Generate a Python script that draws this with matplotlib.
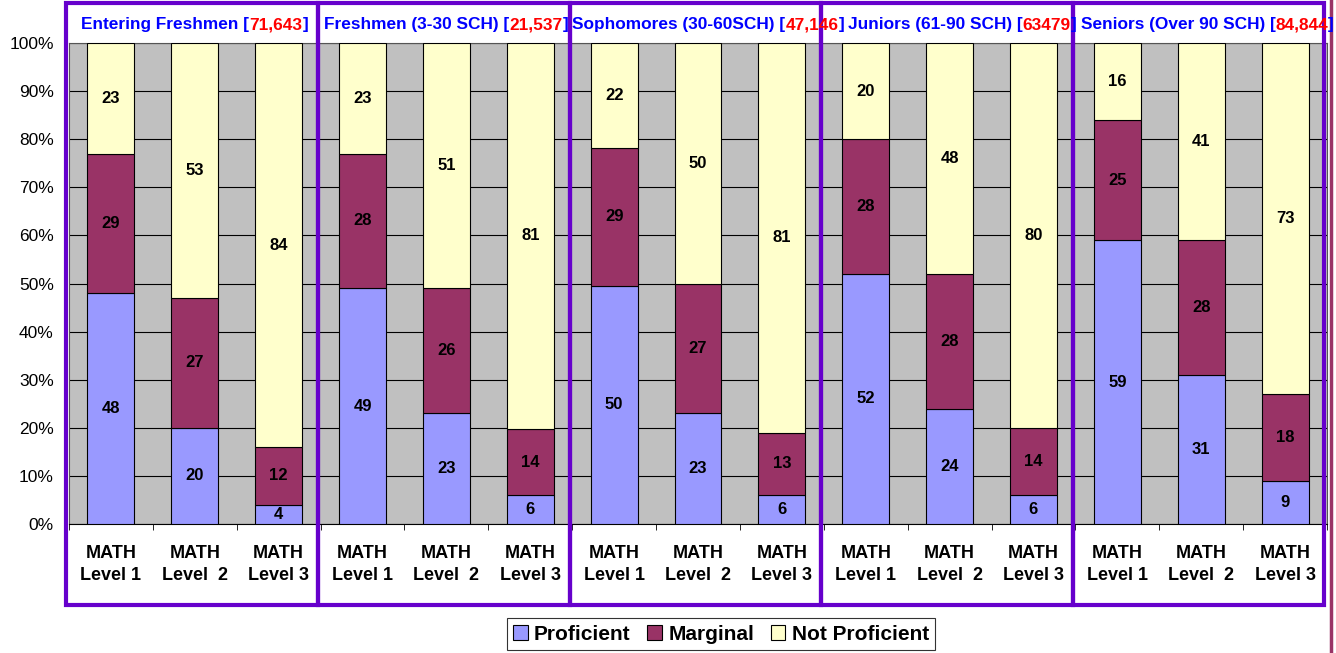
import matplotlib
matplotlib.use("Agg")
import matplotlib.pyplot as plt
import numpy as np
from matplotlib.patches import Rectangle
from matplotlib.lines import Line2D
from matplotlib.transforms import blended_transform_factory

plt.rcParams['font.family'] = ['Liberation Sans', 'DejaVu Sans']

group_names = ["Entering Freshmen", "Freshmen (3-30 SCH)", "Sophomores (30-60SCH)",
               "Juniors (61-90 SCH)", "Seniors (Over 90 SCH)"]
group_counts = ["71,643", "21,537", "47,146", "63479", "84,844"]
levels = ["MATH\nLevel 1", "MATH\nLevel  2", "MATH\nLevel 3"]

proficient = [48, 20, 4, 49, 23, 6, 50, 23, 6, 52, 24, 6, 59, 31, 9]
marginal = [29, 27, 12, 28, 26, 14, 29, 27, 13, 28, 28, 14, 25, 28, 18]
not_prof = [23, 53, 84, 23, 51, 81, 22, 50, 81, 20, 48, 80, 16, 41, 73]

c_prof = '#9999FF'
c_marg = '#993366'
c_not = '#FFFFCC'
box_col = '#6600CC'

W, H = 1336, 653
fig = plt.figure(figsize=(W / 100, H / 100), dpi=100)
ax = fig.add_axes([69 / W, (H - 524) / H, (1327 - 69) / W, (524 - 43) / H])
ax.set_facecolor('#C0C0C0')

p = np.array(proficient, float)
m = np.array(marginal, float)
n = np.array(not_prof, float)
tot = p + m + n
pn, mn, nn = p / tot * 100, m / tot * 100, n / tot * 100
x = np.arange(len(p))
bw = 0.56

ax.bar(x, pn, bw, color=c_prof, edgecolor='black', linewidth=0.8, label='Proficient', zorder=3)
ax.bar(x, mn, bw, bottom=pn, color=c_marg, edgecolor='black', linewidth=0.8, label='Marginal', zorder=3)
ax.bar(x, nn, bw, bottom=pn + mn, color=c_not, edgecolor='black', linewidth=0.8, label='Not Proficient', zorder=3)

for i in x:
    ax.text(i, pn[i] / 2, str(proficient[i]), ha='center', va='center', fontsize=12, fontweight='bold', zorder=4)
    ax.text(i, pn[i] + mn[i] / 2, str(marginal[i]), ha='center', va='center', fontsize=12, fontweight='bold', zorder=4)
    ax.text(i, pn[i] + mn[i] + nn[i] / 2, str(not_prof[i]), ha='center', va='center', fontsize=12, fontweight='bold', zorder=4)

ax.set_xlim(-0.5, len(p) - 0.5)
ax.set_ylim(0, 100)
ax.set_yticks(np.arange(0, 101, 10))
ax.set_yticklabels([f"{v}%" for v in range(0, 101, 10)], fontsize=12.5)
ax.tick_params(axis='y', length=0, pad=11)
ax.yaxis.grid(True, color='black', linewidth=0.8, zorder=1)
ax.set_axisbelow(True)

ax.set_xticks(x)
ax.set_xticklabels(levels * 5, fontsize=13, fontweight='bold', linespacing=1.4)
ax.tick_params(axis='x', which='major', length=0, pad=15)
ax.set_xticks(np.arange(-0.5, len(p), 1), minor=True)
ax.tick_params(axis='x', which='minor', length=4, direction='out', color='black')

for s in ['top', 'right', 'left']:
    ax.spines[s].set_color('#555555')
ax.spines['bottom'].set_color('black')

# purple group boxes
tr = blended_transform_factory(ax.transData, fig.transFigure)
y0 = (H - 605) / H
y1 = (H - 3) / H
for g in range(5):
    left = g * 3 - 0.5 - 0.03
    ax.add_patch(Rectangle((left, y0), 3, y1 - y0, transform=tr, fill=False,
                           edgecolor=box_col, linewidth=3, clip_on=False, zorder=10))

fig.add_artist(Line2D([1331 / W, 1331 / W], [0, 1], color=c_marg, linewidth=2.5))

# group titles, blue with red counts, centred over each group (no overlap)
fig.canvas.draw()
r = fig.canvas.get_renderer()
ty = (H - 25) / H
prev_right = 0
for g in range(5):
    cx = ax.transData.transform((g * 3 + 1, 0))[0]
    parts = [(group_names[g] + " [", '#0000FF'), (group_counts[g], '#FF0000'), ("]", '#0000FF')]
    texts = [fig.text(0, ty, s, color=c, fontsize=12.4, fontweight='bold', va='center', zorder=5)
             for s, c in parts]
    widths = [t.get_window_extent(r).width for t in texts]
    xx = max(cx - sum(widths) / 2, prev_right + 4)
    for t, w in zip(texts, widths):
        t.set_x(xx / W)
        xx += w
    prev_right = xx

leg = fig.legend(loc='center', bbox_to_anchor=(721 / W, (H - 634) / H), ncol=3,
                 prop={'size': 15, 'weight': 'bold'}, frameon=True, fancybox=False,
                 edgecolor='black', handlelength=0.7, handleheight=0.7,
                 handletextpad=0.3, columnspacing=0.8, borderpad=0.3)
leg.get_frame().set_linewidth(0.8)

fig.savefig('out.png', dpi=100)
